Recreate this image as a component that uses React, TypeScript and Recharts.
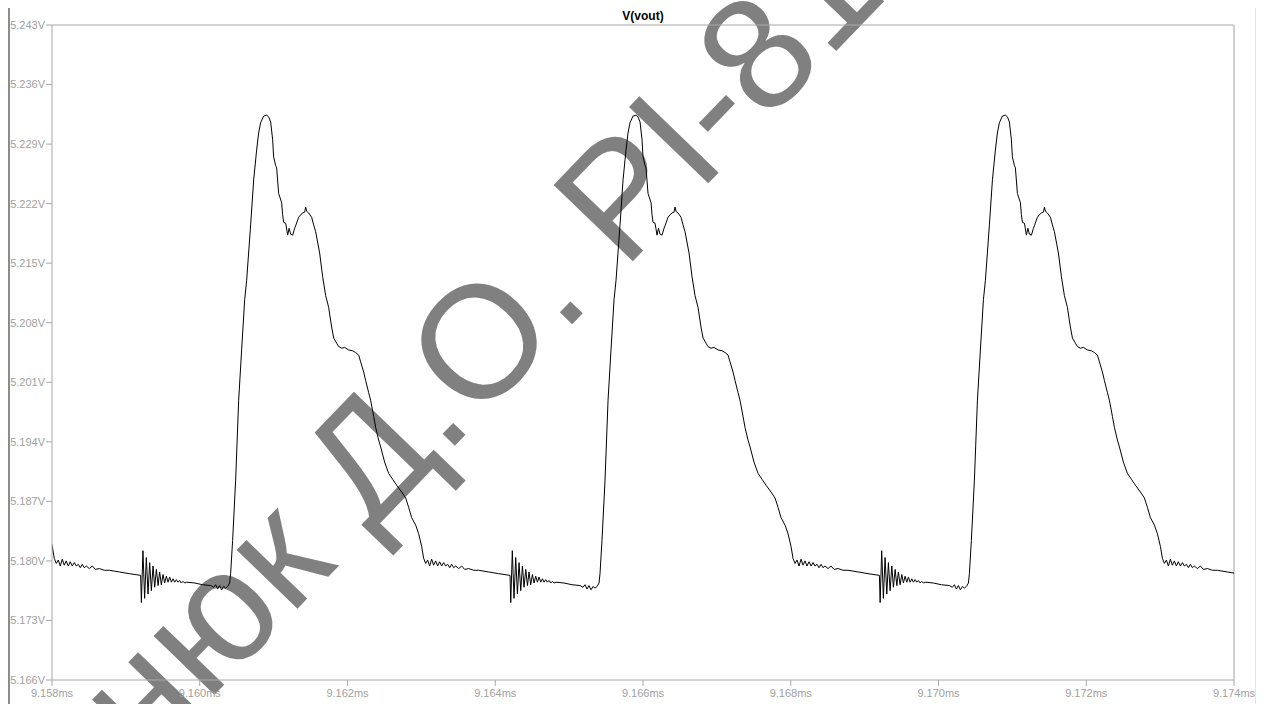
import { LineChart, Line, XAxis, YAxis, ReferenceLine } from "recharts";

const FONT = "'Liberation Sans', Arial, sans-serif";

const xTicks = [9.158, 9.16, 9.162, 9.164, 9.166, 9.168, 9.17, 9.172, 9.174];
const yTicks = [5.166, 5.173, 5.18, 5.187, 5.194, 5.201, 5.208, 5.215, 5.222, 5.229, 5.236, 5.243];

// one switching period of V(vout): time from the ringing burst (µs) and voltage (V)
const cycleOffsetsUs = [
  0.0, 0.01, 0.031, 0.054, 0.077, 0.1, 0.122, 0.145, 0.168, 0.19,
  0.213, 0.236, 0.257, 0.28, 0.303, 0.325, 0.348, 0.371, 0.393, 0.416,
  0.439, 0.46, 0.483, 0.506, 0.528, 0.551, 0.574, 0.596, 0.623, 0.731,
  0.839, 0.948, 0.988, 1.015, 1.042, 1.069, 1.096, 1.124, 1.151, 1.178,
  1.205, 1.218, 1.245, 1.286, 1.327, 1.367, 1.408, 1.435, 1.489, 1.53,
  1.57, 1.597, 1.624, 1.665, 1.706, 1.733, 1.76, 1.787, 1.8, 1.827,
  1.841, 1.868, 1.909, 1.922, 1.936, 1.963, 1.99, 2.01, 2.031, 2.058,
  2.085, 2.098, 2.139, 2.166, 2.193, 2.22, 2.234, 2.247, 2.274, 2.315,
  2.342, 2.369, 2.423, 2.464, 2.504, 2.545, 2.585, 2.613, 2.653, 2.68,
  2.721, 2.761, 2.816, 2.87, 2.91, 2.951, 2.978, 3.019, 3.046, 3.086,
  3.113, 3.154, 3.181, 3.222, 3.249, 3.303, 3.357, 3.411, 3.465, 3.533,
  3.587, 3.628, 3.668, 3.723, 3.763, 3.804, 3.831, 3.858, 3.885, 3.912,
  3.939, 3.966, 3.993, 4.02, 4.047, 4.075, 4.102, 4.129, 4.156, 4.183,
  4.21, 4.237, 4.264, 4.305, 4.345, 4.386, 4.44, 4.508, 4.575, 4.711,
  4.846,
];
const cycleVolts = [
  5.1783, 5.1751, 5.1812, 5.1756, 5.1804, 5.1761, 5.1798, 5.1765, 5.1794, 5.1769,
  5.179, 5.1771, 5.1787, 5.1772, 5.1784, 5.1774, 5.1782, 5.1775, 5.1781, 5.1775,
  5.1779, 5.1775, 5.1778, 5.1775, 5.1777, 5.1774, 5.1776, 5.1774, 5.1775, 5.1774,
  5.1772, 5.1771, 5.1769, 5.1772, 5.1767, 5.1771, 5.1766, 5.177, 5.1768, 5.177,
  5.1774, 5.1785, 5.1824, 5.1895, 5.1989, 5.2048, 5.2107, 5.213, 5.2195, 5.2248,
  5.2283, 5.2303, 5.2315, 5.2323, 5.2324, 5.2322, 5.2316, 5.2295, 5.2275, 5.2265,
  5.2262, 5.2232, 5.2221, 5.2207, 5.2198, 5.2197, 5.2183, 5.2191, 5.2184, 5.2183,
  5.2191, 5.2194, 5.2204, 5.2207, 5.2209, 5.221, 5.2216, 5.2211, 5.2209, 5.2204,
  5.2195, 5.2187, 5.2162, 5.2134, 5.2112, 5.2098, 5.2075, 5.2062, 5.2056, 5.2052,
  5.205, 5.2051, 5.2048, 5.2047, 5.2045, 5.2042, 5.2034, 5.2022, 5.2012, 5.1998,
  5.1989, 5.197, 5.1957, 5.1942, 5.1934, 5.1916, 5.1903, 5.1896, 5.1889, 5.1881,
  5.1874, 5.1863, 5.1851, 5.1842, 5.1832, 5.1817, 5.1803, 5.1797, 5.1801, 5.1794,
  5.1802, 5.1795, 5.18, 5.1794, 5.1799, 5.1794, 5.1798, 5.1794, 5.1796, 5.1792,
  5.1796, 5.1792, 5.1794, 5.1791, 5.1794, 5.179, 5.1791, 5.1789, 5.1789, 5.1787,
  5.1785,
];
// start of each period (ringing burst), ms
const cycleStartsMs = [9.1542, 9.1592, 9.1642, 9.1692];

const data = cycleStartsMs
  .flatMap((start) =>
    cycleOffsetsUs.map((off, i) => ({ t: start + off / 1000, v: cycleVolts[i] }))
  )
  .filter((p) => p.t >= 9.1575 && p.t <= 9.1745);

const tickStyle = { fill: "#a0a0a0", fontSize: 11, fontFamily: FONT };

export default function App() {
  return (
    <div
      style={{
        position: "absolute",
        left: 0,
        top: 0,
        width: 1268,
        height: 704,
        background: "#fff",
        overflow: "hidden",
        fontFamily: FONT,
      }}
    >
      {/* watermark */}
      <svg width={1268} height={704} style={{ position: "absolute", left: 0, top: 0 }}>
        <g transform="translate(698,194) rotate(-46)" fill="#808080" fontFamily={FONT} fontSize={160}>
          <text x={0} y={0} textAnchor="end">нюк Д.О. Р</text>
          <text x={0} y={0} textAnchor="start">І-81</text>
        </g>
      </svg>
      <div style={{ position: "absolute", left: 8, top: 8, width: 2, height: 696, background: "#8c8c8c" }} />
      <div style={{ position: "absolute", left: 1255, top: 8, width: 1, height: 696, background: "#e4e4e4" }} />
      <div
        style={{
          position: "absolute",
          left: 52,
          width: 1182,
          top: 9,
          textAlign: "center",
          fontSize: 12,
          lineHeight: "14px",
          fontWeight: "bold",
          color: "#000",
        }}
      >
        V(vout)
      </div>
      <div style={{ position: "absolute", left: 0, top: 0 }}>
        <LineChart width={1268} height={704} data={data} margin={{ top: 25, right: 34, bottom: 0, left: 0 }}>
          <XAxis
            dataKey="t"
            type="number"
            domain={[9.158, 9.174]}
            ticks={xTicks}
            allowDataOverflow
            height={24}
            tickSize={6}
            tickMargin={3}
            stroke="#a8a8a8"
            tick={tickStyle}
            tickFormatter={(v: number) => v.toFixed(3) + "ms"}
            interval={0}
          />
          <YAxis
            type="number"
            domain={[5.166, 5.243]}
            ticks={yTicks}
            allowDataOverflow
            width={52}
            tickSize={6}
            tickMargin={1}
            stroke="#a8a8a8"
            tick={tickStyle}
            tickFormatter={(v: number) => v.toFixed(3) + "V"}
            interval={0}
          />
          <ReferenceLine y={5.243} stroke="#a8a8a8" />
          <ReferenceLine x={9.174} stroke="#d0d0d0" strokeWidth={2} />
          <Line
            dataKey="v"
            type="linear"
            stroke="#000"
            strokeWidth={1}
            dot={false}
            isAnimationActive={false}
          />
        </LineChart>
      </div>
    </div>
  );
}
